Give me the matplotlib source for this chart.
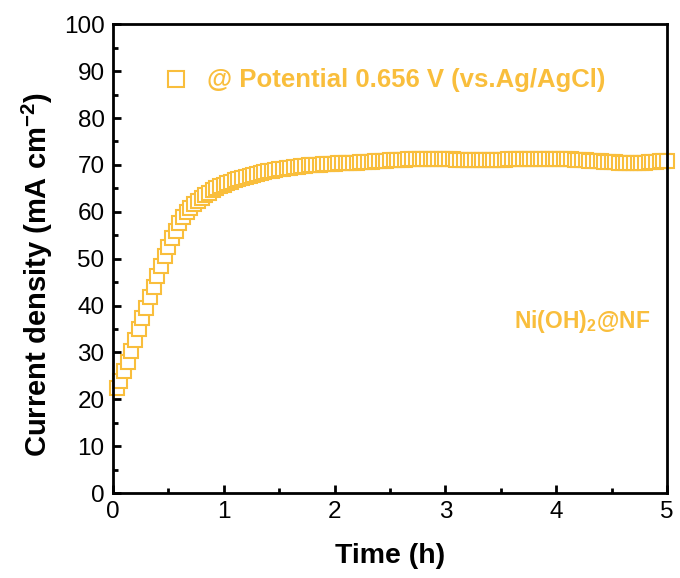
import matplotlib.pyplot as plt
import numpy as np

plt.rcParams['font.family'] = ['Liberation Sans', 'DejaVu Sans']
plt.rcParams['mathtext.fontset'] = 'custom'
plt.rcParams['mathtext.rm'] = 'Liberation Sans'
plt.rcParams['mathtext.bf'] = 'Liberation Sans:bold'

# current density (mA cm-2), one reading every 2 minutes from t = 2 min to 5 h
current = [22.5, 24.0, 26.0, 28.0, 30.3, 32.6, 35.0, 37.3, 39.5, 41.8,
           44.0, 46.2, 48.4, 50.6, 52.5, 54.3, 56.0, 57.5, 58.8, 59.9,
           60.8, 61.6, 62.3, 63.0, 63.6, 64.1, 64.6, 65.0, 65.4, 65.8,
           66.1, 66.4, 66.7, 67.0, 67.2, 67.5, 67.7, 67.9, 68.1, 68.3,
           68.5, 68.6, 68.8, 68.9, 69.1, 69.2, 69.3, 69.4, 69.5, 69.6,
           69.7, 69.8, 69.9, 69.9, 70.0, 70.0, 70.1, 70.1, 70.2, 70.2,
           70.3, 70.3, 70.4, 70.4, 70.5, 70.5, 70.6, 70.6, 70.7, 70.7,
           70.8, 70.8, 70.9, 70.9, 71.0, 71.0, 71.1, 71.1, 71.1, 71.2,
           71.2, 71.2, 71.3, 71.3, 71.3, 71.3, 71.3, 71.3, 71.3, 71.2,
           71.2, 71.2, 71.1, 71.1, 71.0, 71.0, 71.0, 71.0, 71.0, 71.0,
           71.0, 71.0, 71.1, 71.1, 71.1, 71.1, 71.2, 71.2, 71.2, 71.2,
           71.2, 71.2, 71.2, 71.3, 71.3, 71.3, 71.3, 71.3, 71.3, 71.3,
           71.3, 71.3, 71.2, 71.2, 71.1, 71.1, 71.0, 71.0, 70.9, 70.9,
           70.8, 70.8, 70.7, 70.7, 70.6, 70.6, 70.5, 70.5, 70.4, 70.4,
           70.4, 70.4, 70.5, 70.5, 70.6, 70.7, 70.7, 70.8, 70.8, 70.8]
time_min = np.arange(1, len(current) + 1) * 2
time_h = time_min / 60.0

color = '#F9BE3C'

fig = plt.figure(figsize=(6.8, 5.78), dpi=100)
ax = fig.add_axes([0.166, 0.147, 0.815, 0.811])

ax.plot(time_h, current, linestyle='none', marker='s', markersize=9.5,
        markerfacecolor='white', markeredgecolor=color, markeredgewidth=1.5,
        clip_on=False, label='@ Potential 0.656 V (vs.Ag/AgCl)')

ax.set_xlim(0, 5)
ax.set_ylim(0, 100)
ax.set_xticks(np.arange(0, 6, 1))
ax.set_xticks(np.arange(0.5, 5, 1), minor=True)
ax.set_yticks(np.arange(0, 101, 10))
ax.set_yticks(np.arange(5, 100, 10), minor=True)
ax.tick_params(which='both', direction='in', top=False, right=False, width=2,
               labelsize=17.5, pad=6)
ax.tick_params(which='major', length=6)
ax.tick_params(which='minor', length=3.5)
for sp in ax.spines.values():
    sp.set_linewidth(2)

ax.set_xlabel('Time (h)', fontsize=20.5, fontweight='bold', labelpad=14)
ax.set_ylabel('Current density (mA cm$^{\\mathbf{-2}}$)', fontsize=21,
              fontweight='bold')
ax.yaxis.set_label_coords(-0.105, 0.465)

leg = ax.legend(loc='upper left', bbox_to_anchor=(0.045, 0.955), frameon=False,
                prop={'size': 18.5, 'weight': 'bold'}, handletextpad=0.6,
                handlelength=1.2, markerscale=1.2)
for t in leg.get_texts():
    t.set_color(color)

ax.text(0.97, 36.5, 'Ni(OH)$_\\mathbf{2}$@NF', transform=ax.get_yaxis_transform(),
        color=color, fontsize=16.5, fontweight='bold', ha='right', va='center')

fig.savefig('out.png', dpi=100)
